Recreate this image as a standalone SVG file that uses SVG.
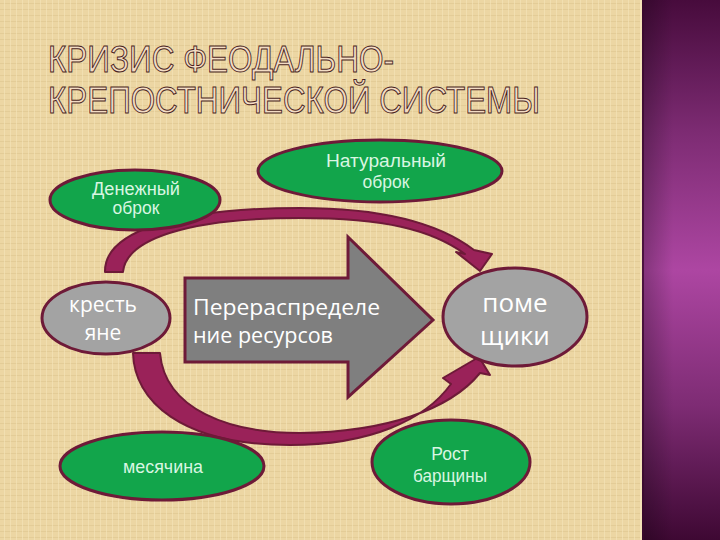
<svg xmlns="http://www.w3.org/2000/svg" width="720" height="540" viewBox="0 0 720 540">
<defs>
<pattern id="linen" width="12" height="12" patternUnits="userSpaceOnUse">
<rect width="12" height="12" fill="#ecd6a3"/>
<path d="M0 3.5H12M0 9.5H12" stroke="#dcc28c" stroke-width="1" opacity="0.55"/>
<path d="M4.5 0V12M10.5 0V12" stroke="#f5e5ba" stroke-width="1" opacity="0.6"/>
</pattern>
<linearGradient id="strip" x1="0" y1="0" x2="0" y2="1">
<stop offset="0" stop-color="#470b3c"/>
<stop offset="0.25" stop-color="#7e2c74"/>
<stop offset="0.5" stop-color="#ad46a2"/>
<stop offset="0.75" stop-color="#7e2c74"/>
<stop offset="1" stop-color="#3e0833"/>
</linearGradient>
<linearGradient id="stripEdge" x1="0" y1="0" x2="1" y2="0">
<stop offset="0" stop-color="#000" stop-opacity="0.25"/>
<stop offset="0.4" stop-color="#000" stop-opacity="0"/>
</linearGradient>
</defs>
<style>
.title{font-family:"Liberation Sans",Arial,sans-serif;font-size:37px;fill:#f3dcc4;stroke:#4a1f22;stroke-width:1px}
.green{fill:#12a54b;stroke:#6e1a38;stroke-width:3}
.gray{fill:#a3a3a3;stroke:#6e1a38;stroke-width:3}
.gt{font-family:"Liberation Sans",Arial,sans-serif;fill:#d9f6e2;text-anchor:middle;font-size:17.5px}
.wt{font-family:"Open Sans","DejaVu Sans",sans-serif;fill:#ffffff;text-anchor:middle}
.conn{fill:#9a2259;stroke:#6e1a38;stroke-width:2;stroke-linejoin:round}
</style>
<rect width="720" height="540" fill="url(#linen)"/>
<rect x="642" y="0" width="78" height="540" fill="url(#strip)"/>
<rect x="642" y="0" width="78" height="540" fill="url(#stripEdge)"/>
<line x1="641" y1="0" x2="641" y2="540" stroke="#f6e4bc" stroke-width="1.5"/>
<line x1="643" y1="0" x2="643" y2="540" stroke="#3a0a2e" stroke-width="1.5"/>

<g id="title">
<text class="title" x="48" y="72" textLength="346" lengthAdjust="spacingAndGlyphs">КРИЗИС ФЕОДАЛЬНО-</text>
<text class="title" x="48" y="113" textLength="492" lengthAdjust="spacingAndGlyphs">КРЕПОСТНИЧЕСКОЙ СИСТЕМЫ</text>
</g>

<g id="connectors">
<path class="conn" d="M105 272 C104 232 175 208 300 208 C385 208 440 224 474 250 L492 254 L480 271 L456 252 L465 254 C432 230 385 218 300 218 C185 218 126 240 123 272 Z"/>
<path class="conn" d="M133 353 C134 400 180 445 290 445 C370 445 425 420 451 384 L443 378 L479 357 L490 375 L480 373 C450 410 385 432 300 433 C230 433 165 410 160 353 Z"/>
</g>

<g id="node-denezhny">
<ellipse class="green" cx="135" cy="200" rx="85" ry="30"/>
<text class="gt" x="136" y="195" textLength="88" lengthAdjust="spacingAndGlyphs">Денежный</text>
<text class="gt" x="136" y="214">оброк</text>
</g>

<g id="node-naturalny">
<ellipse class="green" cx="380" cy="171" rx="122" ry="31"/>
<text class="gt" x="386" y="167" textLength="120" lengthAdjust="spacingAndGlyphs">Натуральный</text>
<text class="gt" x="386" y="188">оброк</text>
</g>

<g id="node-krestyane">
<ellipse class="gray" cx="106" cy="318" rx="64" ry="36"/>
<text class="wt" x="103" y="312" font-size="21">кресть</text>
<text class="wt" x="103" y="340" font-size="21">яне</text>
</g>

<g id="node-pereraspredelenie">
<path d="M185 278 H348 V237 L433 320 L348 397 V362 H185 Z" fill="#7f7f7f" stroke="#6e1a38" stroke-width="3" stroke-linejoin="miter"/>
<text font-family="'Open Sans','DejaVu Sans',sans-serif" fill="#ffffff" font-size="21.5" x="193" y="315" textLength="187" lengthAdjust="spacingAndGlyphs">Перераспределе</text>
<text font-family="'Open Sans','DejaVu Sans',sans-serif" fill="#ffffff" font-size="21.5" x="193" y="343">ние ресурсов</text>
</g>

<g id="node-pomeshchiki">
<ellipse class="gray" cx="515" cy="317" rx="72" ry="49"/>
<text class="wt" x="515" y="312" font-size="26">поме</text>
<text class="wt" x="515" y="345" font-size="26">щики</text>
</g>

<g id="node-rost-barshchiny">
<ellipse class="green" cx="451" cy="462" rx="79" ry="42"/>
<text class="gt" x="450" y="460">Рост</text>
<text class="gt" x="450" y="482" textLength="74" lengthAdjust="spacingAndGlyphs">барщины</text>
</g>

<g id="node-mesyachina">
<ellipse class="green" cx="162" cy="466" rx="102" ry="34"/>
<text class="gt" x="163" y="473" textLength="80" lengthAdjust="spacingAndGlyphs">месячина</text>
</g>
</svg>
